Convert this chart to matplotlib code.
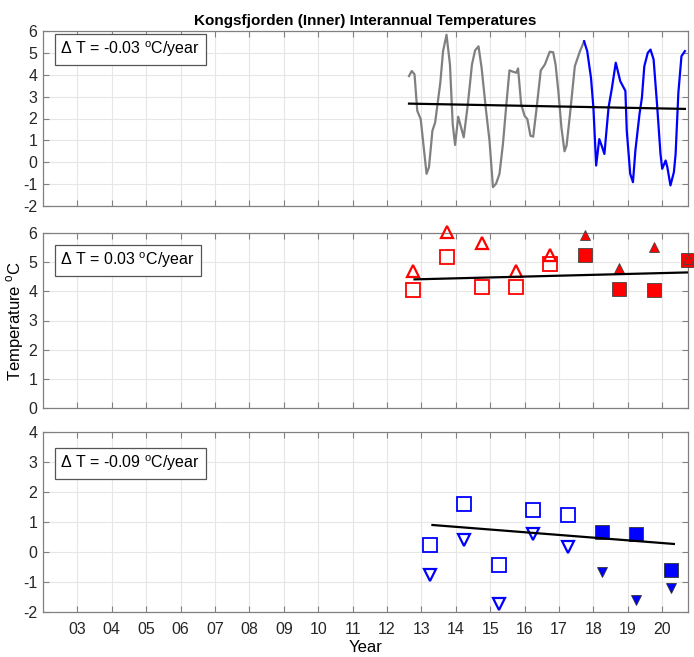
import numpy as np
import matplotlib.pyplot as plt

plt.rcParams['font.family'] = ['Liberation Sans', 'DejaVu Sans']
plt.rcParams['mathtext.fontset'] = 'custom'
plt.rcParams['mathtext.rm'] = 'Liberation Sans'
plt.rcParams['axes.unicode_minus'] = False

# --- top panel: monthly series (years since 2000) ---
ts_gray_x = [12.64, 12.72, 12.80, 12.88, 12.98, 13.15, 13.22, 13.32, 13.40, 13.55,
             13.63, 13.73, 13.83, 13.91, 13.98, 14.07, 14.23, 14.35, 14.47, 14.56,
             14.66, 14.75, 14.88, 14.98, 15.08, 15.17, 15.27, 15.37, 15.47, 15.56,
             15.66, 15.76, 15.81, 15.90, 16.00, 16.08, 16.17, 16.25, 16.34, 16.47,
             16.59, 16.73, 16.83, 16.90, 16.98, 17.07, 17.16, 17.22, 17.32, 17.46,
             17.61, 17.73]
ts_gray_y = [3.94, 4.17, 4.02, 2.35, 1.97, -0.53, -0.23, 1.44, 1.82, 3.64,
             5.08, 5.83, 4.47, 1.74, 0.79, 2.08, 1.14, 2.65, 4.47, 5.11,
             5.30, 4.32, 2.35, 0.98, -1.14, -0.98, -0.53, 0.83, 2.65, 4.20,
             4.14, 4.09, 4.29, 2.65, 2.12, 1.97, 1.21, 1.17, 2.35, 4.20,
             4.47, 5.05, 5.03, 4.47, 3.26, 1.59, 0.50, 0.76, 2.20, 4.39,
             5.08, 5.53]
ts_blue_x = [17.73, 17.82, 17.93, 18.00, 18.08, 18.17, 18.24, 18.32, 18.44, 18.54,
             18.65, 18.78, 18.88, 18.93, 18.97, 19.07, 19.15, 19.22, 19.34, 19.41,
             19.48, 19.58, 19.66, 19.75, 19.85, 19.95, 20.00, 20.10, 20.15, 20.24,
             20.34, 20.39, 20.47, 20.56, 20.66]
ts_blue_y = [5.53, 5.08, 3.86, 2.50, -0.15, 1.06, 0.76, 0.38, 2.50, 3.41,
             4.55, 3.71, 3.41, 3.26, 1.44, -0.53, -0.91, 0.53, 2.20, 2.95,
             4.39, 5.00, 5.15, 4.70, 2.65, 0.38, -0.30, 0.08, -0.23, -1.06,
             -0.45, 0.38, 3.18, 4.85, 5.08]

# --- middle panel: summer (red) ---
mid_open_x = [12.75, 13.75, 14.75, 15.75, 16.75]
mid_open_tri = [4.69, 6.03, 5.67, 4.69, 5.26]
mid_open_sq = [4.03, 5.18, 4.15, 4.15, 4.93]
mid_fill_x = [17.75, 18.75, 19.75, 20.75]
mid_fill_tri = [5.92, 4.80, 5.52, 5.12]
mid_fill_sq = [5.26, 4.07, 4.03, 5.09]

# --- bottom panel: winter (blue) ---
bot_open_x = [13.25, 14.25, 15.25, 16.25, 17.25]
bot_open_sq = [0.22, 1.61, -0.44, 1.41, 1.24]
bot_open_tri = [-0.78, 0.39, -1.72, 0.61, 0.16]
bot_fill_x = [18.25, 19.25, 20.25]
bot_fill_sq = [0.67, 0.61, -0.61]
bot_fill_tri = [-0.67, -1.60, -1.20]

# trends: slope (degC/yr), start value, x range
slopes = [-0.03, 0.03, -0.09]
trend_y0 = [2.68, 4.41, 0.90]
trend_x = [(12.64, 20.66), (12.80, 20.75), (13.32, 20.34)]

years = np.arange(2003, 2021)
year_labels = ['%02d' % (y % 100) for y in years]

fig = plt.figure(figsize=(6.94, 6.57), dpi=100)
W = 645 / 694
ax1 = fig.add_axes([43 / 694, (657 - 206) / 657, W, 175 / 657])
ax2 = fig.add_axes([43 / 694, (657 - 408) / 657, W, 175 / 657])
ax3 = fig.add_axes([43 / 694, (657 - 612) / 657, W, 180 / 657])
axes = [ax1, ax2, ax3]

ax1.plot(2000 + np.array(ts_gray_x), ts_gray_y, color='#808080', lw=1.6)
ax1.plot(2000 + np.array(ts_blue_x), ts_blue_y, color='blue', lw=1.6)

red = '#ff0000'
mk = dict(ls='none', clip_on=False, zorder=3)
ax2.plot(2000 + np.array(mid_open_x), mid_open_tri, '^', ms=8, mfc='none', mec=red, mew=1.6, **mk)
ax2.plot(2000 + np.array(mid_open_x), mid_open_sq, 's', ms=9.5, mfc='none', mec=red, mew=1.3, **mk)
ax2.plot(2000 + np.array(mid_fill_x), mid_fill_sq, 's', ms=9.5, mfc=red, mec='#444444', mew=0.6, **mk)
ax2.plot(2000 + np.array(mid_fill_x), mid_fill_tri, '^', ms=7, mfc=red, mec='#444444', mew=0.6, **mk)

ax3.plot(2000 + np.array(bot_open_x), bot_open_sq, 's', ms=9.5, mfc='none', mec='blue', mew=1.3, **mk)
ax3.plot(2000 + np.array(bot_open_x), bot_open_tri, 'v', ms=8, mfc='none', mec='blue', mew=1.6, **mk)
ax3.plot(2000 + np.array(bot_fill_x), bot_fill_sq, 's', ms=9.5, mfc='blue', mec='#333333', mew=0.6, **mk)
ax3.plot(2000 + np.array(bot_fill_x), bot_fill_tri, 'v', ms=7, mfc='blue', mec='#333333', mew=0.6, **mk)

box_tops = [0.95, 0.9, 0.88]
ylims = [(-2, 6), (0, 6), (-2, 4)]
for i, ax in enumerate(axes):
    x0, x1 = trend_x[i]
    tx = np.array([x0, x1])
    ax.plot(2000 + tx, trend_y0[i] + slopes[i] * (tx - x0), color='black', lw=1.6, zorder=4)
    ax.set_xlim(2002, 2020.75)
    ax.set_ylim(*ylims[i])
    ax.set_yticks(np.arange(ylims[i][0], ylims[i][1] + 1))
    ax.set_xticks(years)
    ax.grid(True, color='#e6e6e6', lw=0.8)
    ax.set_axisbelow(True)
    ax.tick_params(direction='in', top=True, right=True, length=4, labelsize=11.5)
    ax.tick_params(axis='y', pad=4)
    ax.tick_params(axis='x', pad=7)
    ax.tick_params(axis='both', colors='#808080', labelcolor='#262626')
    for s in ax.spines.values():
        s.set_color('#808080')
        s.set_linewidth(0.9)
    ax.text(0.027, box_tops[i], r'$\Delta$ T = %.2f $^{\mathrm{o}}$C/year' % slopes[i],
            transform=ax.transAxes, ha='left', va='top', fontsize=11.5,
            bbox=dict(boxstyle='square,pad=0.35', fc='white', ec='#555555', lw=0.9))
    if i < 2:
        ax.set_xticklabels([])
    else:
        ax.set_xticklabels(year_labels)

ax1.set_title('Kongsfjorden (Inner) Interannual Temperatures', fontsize=11,
              fontweight='bold', pad=4)
ax2.set_ylabel(r'Temperature $^{\mathrm{o}}$C', fontsize=12, labelpad=2)
ax3.set_xlabel('Year', fontsize=12, labelpad=2)

fig.savefig('out.png', dpi=100)
